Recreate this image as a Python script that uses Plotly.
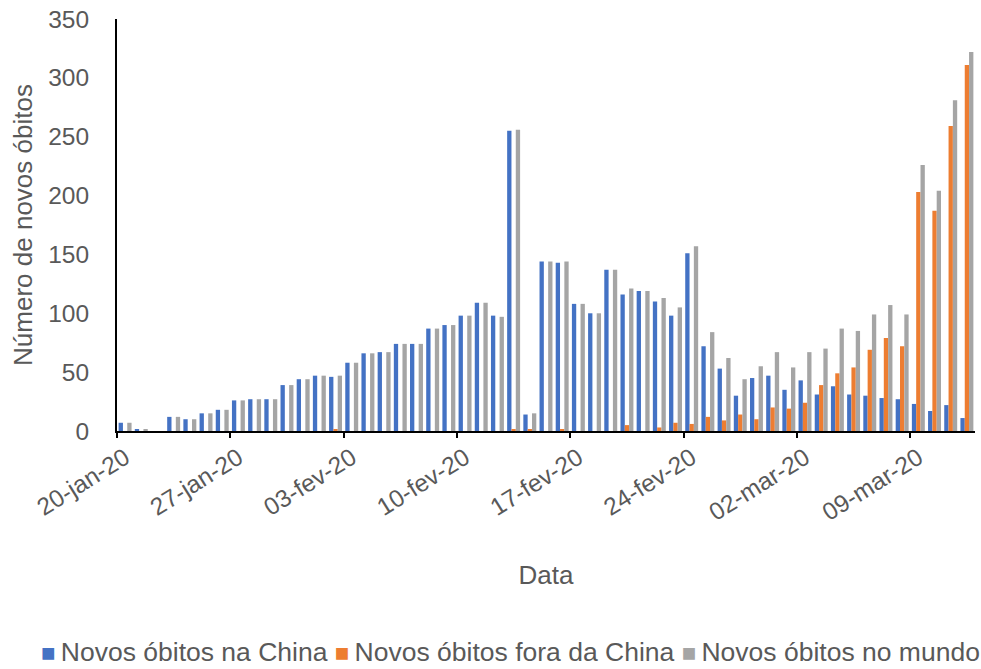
import plotly.graph_objects as go
import pandas as pd

# Daily report dates (20 Jan - 12 Mar 2020)
dates = [
    "2020-01-20", "2020-01-21", "2020-01-22", "2020-01-23", "2020-01-24", "2020-01-25", "2020-01-26",
    "2020-01-27", "2020-01-28", "2020-01-29", "2020-01-30", "2020-01-31", "2020-02-01", "2020-02-02",
    "2020-02-03", "2020-02-04", "2020-02-05", "2020-02-06", "2020-02-07", "2020-02-08", "2020-02-09",
    "2020-02-10", "2020-02-11", "2020-02-12", "2020-02-13", "2020-02-14", "2020-02-15", "2020-02-16",
    "2020-02-17", "2020-02-18", "2020-02-19", "2020-02-20", "2020-02-21", "2020-02-22", "2020-02-23",
    "2020-02-24", "2020-02-25", "2020-02-26", "2020-02-27", "2020-02-28", "2020-02-29", "2020-03-01",
    "2020-03-02", "2020-03-03", "2020-03-04", "2020-03-05", "2020-03-06", "2020-03-07", "2020-03-08",
    "2020-03-09", "2020-03-10", "2020-03-11", "2020-03-12",
]

obitos_china = [
    7, 1, 0, 12, 10, 15, 18,
    26, 27, 27, 39, 44, 47, 46,
    58, 66, 67, 74, 74, 87, 90,
    98, 109, 98, 255, 14, 144, 143,
    108, 100, 137, 116, 119, 110, 98,
    151, 72, 53, 30, 45, 47, 35,
    43, 31, 38, 31, 30, 28, 27,
    23, 17, 22, 11,
]

obitos_fora_china = [
    0, 0, 0, 0, 0, 0, 0,
    0, 0, 0, 0, 0, 0, 1,
    0, 0, 0, 0, 0, 0, 0,
    0, 0, 0, 1, 1, 0, 1,
    0, 0, 0, 5, 0, 3, 7,
    6, 12, 9, 14, 10, 20, 19,
    24, 39, 49, 54, 69, 79, 72,
    203, 187, 259, 311,
]

obitos_mundo = [
    7, 1, 0, 12, 10, 15, 18,
    26, 27, 27, 39, 44, 47, 47,
    58, 66, 67, 74, 74, 87, 90,
    98, 109, 97, 256, 15, 144, 144,
    108, 100, 137, 121, 119, 113, 105,
    157, 84, 62, 44, 55, 67, 54,
    67, 70, 87, 85, 99, 107, 99,
    226, 204, 281, 322,
]

series_names = ["Novos óbitos na China", "Novos óbitos fora da China", "Novos óbitos no mundo"]
series_colors = ["#4472C4", "#ED7D31", "#A5A5A5"]

meses = {1: "jan", 2: "fev", 3: "mar"}

day = pd.to_datetime(dates)
# each day's bars sit in the middle of its own day slot
x_mid = day + pd.Timedelta(hours=12)

label_idx = list(range(0, len(dates), 7))
tick_text = [f"{day[i].day:02d}-{meses[day[i].month]}-{str(day[i].year)[2:]}" for i in label_idx]
tick_mid = [x_mid[i] for i in label_idx]
tick_edge = [day[i] for i in label_idx]

x_start = day[0]
x_end = day[-1] + pd.Timedelta(days=1)

font_family = "Liberation Sans, Arial, sans-serif"
text_color = "#595959"

fig = go.Figure()
for name, vals, color in zip(series_names,
                             [obitos_china, obitos_fora_china, obitos_mundo],
                             series_colors):
    fig.add_trace(go.Bar(x=x_mid, y=vals, name=name, marker_color=color,
                         marker_line_width=0))

# helper trace so the tick-mark axis is drawn
fig.add_trace(go.Scatter(x=[x_start], y=[0], xaxis="x2", mode="markers",
                         marker=dict(opacity=0), hoverinfo="skip", showlegend=False))

# legend row: coloured square followed by the series name
legend_text = " ".join(
    f'<span style="color:{c};font-size:24px">■</span>\u2009{n}'
    for n, c in zip(series_names, series_colors)
)

fig.update_layout(
    width=981, height=669,
    margin=dict(l=116.5, r=5.5, t=18.5, b=238.3, pad=0),
    paper_bgcolor="white", plot_bgcolor="white",
    barmode="group", bargap=0.2, bargroupgap=0,
    showlegend=False,
    font=dict(family=font_family, size=26, color=text_color),
    xaxis=dict(
        type="date", range=[x_start, x_end],
        tickmode="array", tickvals=tick_mid, ticktext=tick_text,
        tickangle=-32, ticks="outside", ticklen=1, tickcolor="rgba(0,0,0,0)",
        tickfont=dict(size=24.5, color=text_color),
        showline=True, linecolor="black", linewidth=2,
        showgrid=False, zeroline=False,
        title=dict(text="Data", standoff=41, font=dict(size=26, color=text_color)),
    ),
    xaxis2=dict(
        type="date", range=[x_start, x_end], overlaying="x", anchor="y",
        tickmode="array", tickvals=tick_edge, showticklabels=False,
        ticks="outside", ticklen=6, tickwidth=2, tickcolor="black",
        showline=False, showgrid=False, zeroline=False,
    ),
    yaxis=dict(
        range=[0, 350], tickmode="linear", tick0=0, dtick=50,
        ticks="outside", ticklen=21, tickcolor="rgba(0,0,0,0)",
        tickfont=dict(size=24.5, color=text_color),
        showline=True, linecolor="black", linewidth=2,
        showgrid=False, zeroline=False,
        title=dict(text="Número de novos óbitos", standoff=8,
                   font=dict(size=26, color=text_color)),
    ),
    annotations=[dict(
        text=legend_text, xref="paper", yref="paper",
        x=0.459, y=-0.537, xanchor="center", yanchor="middle",
        showarrow=False, font=dict(size=26.5, color=text_color, family=font_family),
    )],
)

fig.write_html("out.html")
